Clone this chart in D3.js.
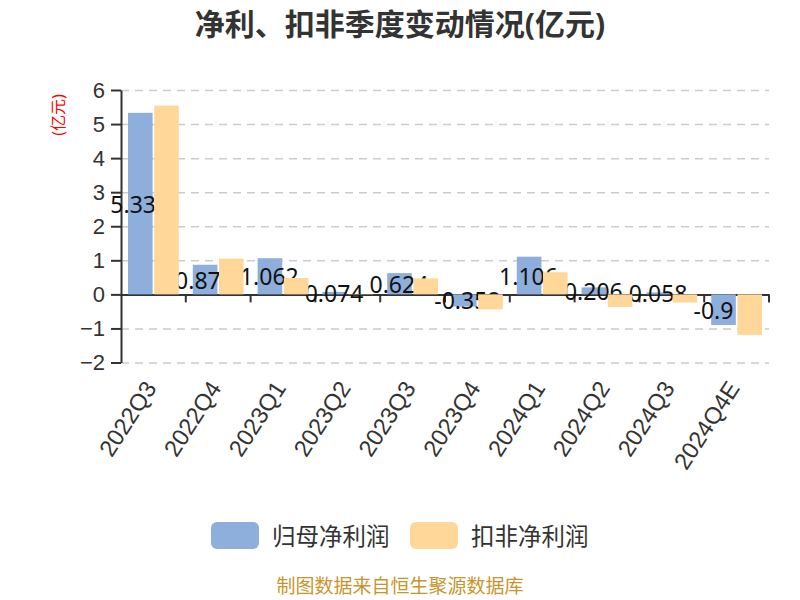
<!DOCTYPE html>
<html>
<head>
  <meta charset="utf-8">
  <script src="https://d3js.org/d3.v7.min.js"></script>
  <style>
    body { margin: 0; background: #fff; }
    .chart { font-family: "Noto Sans", "Noto Sans CJK SC", sans-serif; }
    .grid line { stroke: #cccccc; stroke-width: 1.5; stroke-dasharray: 8 6; }
    .grid path { display: none; }
    .y-axis path, .y-axis line, .x-axis path, .x-axis line { stroke: #333; stroke-width: 2; }
    .y-axis text { font-size: 22px; fill: #333; }
    .x-labels text { font-size: 23.5px; fill: #333; }
    .bar-label { font-size: 23px; fill: #111; }
  </style>
</head>
<body>
  <svg class="chart"></svg>
  <script>
      // Constants
      const WIDTH_ORIG   = 800;
      const HEIGHT_ORIG  = 600;
      const MARGIN       = { top: 90, right: 31, bottom: 237.5, left: 121 };
      const WIDTH        = WIDTH_ORIG - MARGIN.left - MARGIN.right;
      const HEIGHT       = HEIGHT_ORIG - MARGIN.top - MARGIN.bottom;

      const TITLE        = "净利、扣非季度变动情况(亿元)";
      const Y_LABEL      = "(亿元)";
      const SOURCE       = "制图数据来自恒生聚源数据库";
      const COLOR_BLUE   = "#8eaedb";
      const COLOR_YELLOW = "#ffd899";

      // data
      const categories     = ["2022Q3", "2022Q4", "2023Q1", "2023Q2", "2023Q3", "2023Q4", "2024Q1", "2024Q2", "2024Q3", "2024Q4E"];
      const netProfit      = [5.33, 0.87, 1.062, 0.074, 0.624, -0.358, 1.106, 0.206, 0.058, -0.9];
      const deductedProfit = [5.54, 1.05, 0.48, 0.01, 0.47, -0.44, 0.65, -0.37, -0.24, -1.19];
      const seriesNames    = ["归母净利润", "扣非净利润"];
      const yTicks         = [-2, -1, 0, 1, 2, 3, 4, 5, 6];

      const svg0 = d3.select(".chart").attr("width", WIDTH_ORIG).attr("height", HEIGHT_ORIG);
      const svg = svg0.append("g").attr("transform", `translate(${MARGIN.left}, ${MARGIN.top})`);

      const xScale = d3.scaleBand().domain(categories).range([0, WIDTH]).padding(0);
      const xInner = d3.scaleBand().domain([0, 1]).range([7, xScale.bandwidth() - 7]).paddingInner(0.06);
      const yScale = d3.scaleLinear().domain([-2, 6]).range([HEIGHT, 0]);

      // title
      svg0.append("text")
        .attr("x", 400).attr("y", 23)
        .attr("text-anchor", "middle").attr("dominant-baseline", "central")
        .style("font-size", "30px").style("font-weight", "bold").style("fill", "#333")
        .text(TITLE);

      // grid lines
      svg.append("g").attr("class", "grid")
        .call(d3.axisLeft(yScale).tickValues(yTicks).tickSize(-WIDTH).tickFormat(""));

      // y axis
      svg.append("g").attr("class", "y-axis")
        .call(d3.axisLeft(yScale).tickValues(yTicks).tickSize(10).tickSizeOuter(0).tickPadding(6).tickFormat(d3.format("d")));

      svg.append("text")
        .attr("transform", `translate(${58 - MARGIN.left}, ${115 - MARGIN.top}) rotate(-90)`)
        .attr("text-anchor", "middle").attr("dominant-baseline", "central")
        .style("font-size", "16px").style("fill", "red")
        .text(Y_LABEL);

      // x axis on zero, ticks at the category boundaries
      const xAxis = svg.append("g").attr("class", "x-axis")
        .attr("transform", `translate(0, ${yScale(0)})`)
        .call(d3.axisBottom(xScale).tickSize(0).tickSizeOuter(0).tickFormat(""));
      xAxis.selectAll(".tick").remove();
      xAxis.selectAll(".edge")
        .data(categories)
        .enter().append("line").attr("class", "edge")
        .attr("x1", d => xScale(d) + xScale.step()).attr("x2", d => xScale(d) + xScale.step())
        .attr("y1", 0).attr("y2", 8);

      // category labels at the bottom of the grid
      const xLabels = svg.append("g").attr("class", "x-labels")
        .attr("transform", `translate(0, ${HEIGHT})`)
        .call(d3.axisBottom(xScale).tickSize(0));
      xLabels.select(".domain").remove();
      xLabels.selectAll("text")
        .attr("x", 0).attr("y", 0).attr("dy", "0.35em")
        .attr("text-anchor", "end")
        .attr("transform", "translate(-3, 21) rotate(-57)");

      // blue bars + labels, then yellow bars on top
      const blue = svg.append("g");
      blue.selectAll("rect")
        .data(netProfit)
        .enter().append("rect")
        .attr("x", (d, i) => xScale(categories[i]) + xInner(0))
        .attr("width", xInner.bandwidth())
        .attr("y", d => yScale(Math.max(0, d)))
        .attr("height", d => Math.abs(yScale(d) - yScale(0)))
        .style("fill", COLOR_BLUE);

      svg.append("g").selectAll("text")
        .data(netProfit)
        .enter().append("text").attr("class", "bar-label")
        .attr("x", (d, i) => xScale(categories[i]) + xInner(0) + xInner.bandwidth() / 2 - 30)
        .attr("y", d => (yScale(d) + yScale(0)) / 2)
        .attr("dominant-baseline", "central")
        .text(d => d);

      svg.append("g").selectAll("rect")
        .data(deductedProfit)
        .enter().append("rect")
        .attr("x", (d, i) => xScale(categories[i]) + xInner(1))
        .attr("width", xInner.bandwidth())
        .attr("y", d => yScale(Math.max(0, d)))
        .attr("height", d => Math.abs(yScale(d) - yScale(0)))
        .style("fill", COLOR_YELLOW);

      // legend
      const legendX = [211, 410];
      const legend = svg0.selectAll(".legend")
        .data(seriesNames)
        .enter().append("g").attr("class", "legend")
        .attr("transform", (d, i) => `translate(${legendX[i]}, 522)`);
      legend.append("rect")
        .attr("width", 48).attr("height", 27).attr("rx", 6)
        .style("fill", (d, i) => [COLOR_BLUE, COLOR_YELLOW][i]);
      legend.append("text")
        .attr("x", 61).attr("y", 13.5).attr("dominant-baseline", "central")
        .style("font-size", "23.5px").style("fill", "#333")
        .text(d => d);

      // source
      svg0.append("text")
        .attr("x", 400).attr("y", 586)
        .attr("text-anchor", "middle").attr("dominant-baseline", "central")
        .style("font-size", "19px").style("fill", "#c8952c")
        .text(SOURCE);
  </script>
</body>
</html>
